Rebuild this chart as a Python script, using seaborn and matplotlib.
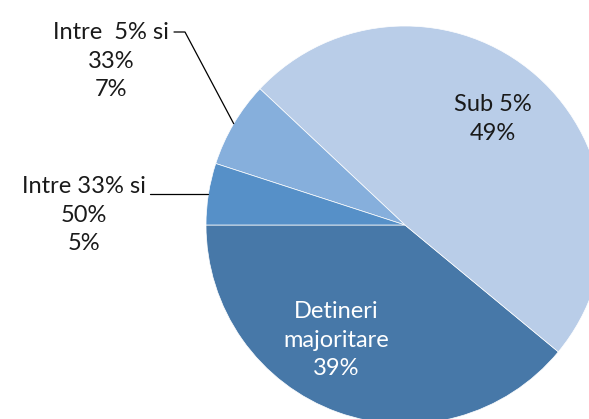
import numpy as np
import matplotlib
matplotlib.use("Agg")
import matplotlib.pyplot as plt
import seaborn as sns

# Structura actionariatului
categorii = ["Detineri\nmajoritare", "Sub 5%", "Intre  5% si\n33%", "Intre 33% si\n50%"]
procente = [39, 49, 7, 5]
culori = ["#4778a8", "#b9cde8", "#86afdc", "#5690c8"]

sns.set_theme(style="white")
plt.rcParams["font.family"] = ["Lato", "DejaVu Sans"]

W, H = 589, 419
fig = plt.figure(figsize=(W / 100, H / 100), dpi=100)
ax = fig.add_axes([0, 0, 1, 1])

centru = (405, H - 225)
raza = 199
wedges, _ = ax.pie(procente, colors=culori, startangle=180, counterclock=True,
                   center=centru, radius=raza, frame=True,
                   wedgeprops=dict(edgecolor="white", linewidth=0.5))
ax.set_xlim(0, W)
ax.set_ylim(0, H)
ax.set_aspect("equal")
ax.axis("off")

fs = 17
ls = 1.45
# etichete in interior
ax.text(493, H - 119, f"{categorii[1]}\n{procente[1]}%", ha="center", va="center",
        fontsize=fs, color="#1a1a1a", linespacing=ls)
ax.text(336, H - 340, f"{categorii[0]}\n{procente[0]}%", ha="center", va="center",
        fontsize=fs, color="white", linespacing=ls)

# etichete exterioare cu linii de legatura
exterior = [(2, (111, H - 61), (174, 185, H - 32)),
            (3, (84, H - 215), (150, None, None))]
for idx, pos, (x0, x1, yl) in exterior:
    ax.text(pos[0], pos[1], f"{categorii[idx]}\n{procente[idx]}%", ha="center", va="center",
            fontsize=fs, color="#1a1a1a", linespacing=ls)
    w = wedges[idx]
    ang = np.deg2rad((w.theta1 + w.theta2) / 2)
    xe = centru[0] + raza * np.cos(ang)
    ye = centru[1] + raza * np.sin(ang)
    if x1 is None:
        x1, yl = xe, ye
    ax.plot([x0, x1, xe], [yl, yl, ye], color="black", linewidth=0.9)

fig.savefig("out.png", dpi=100)
